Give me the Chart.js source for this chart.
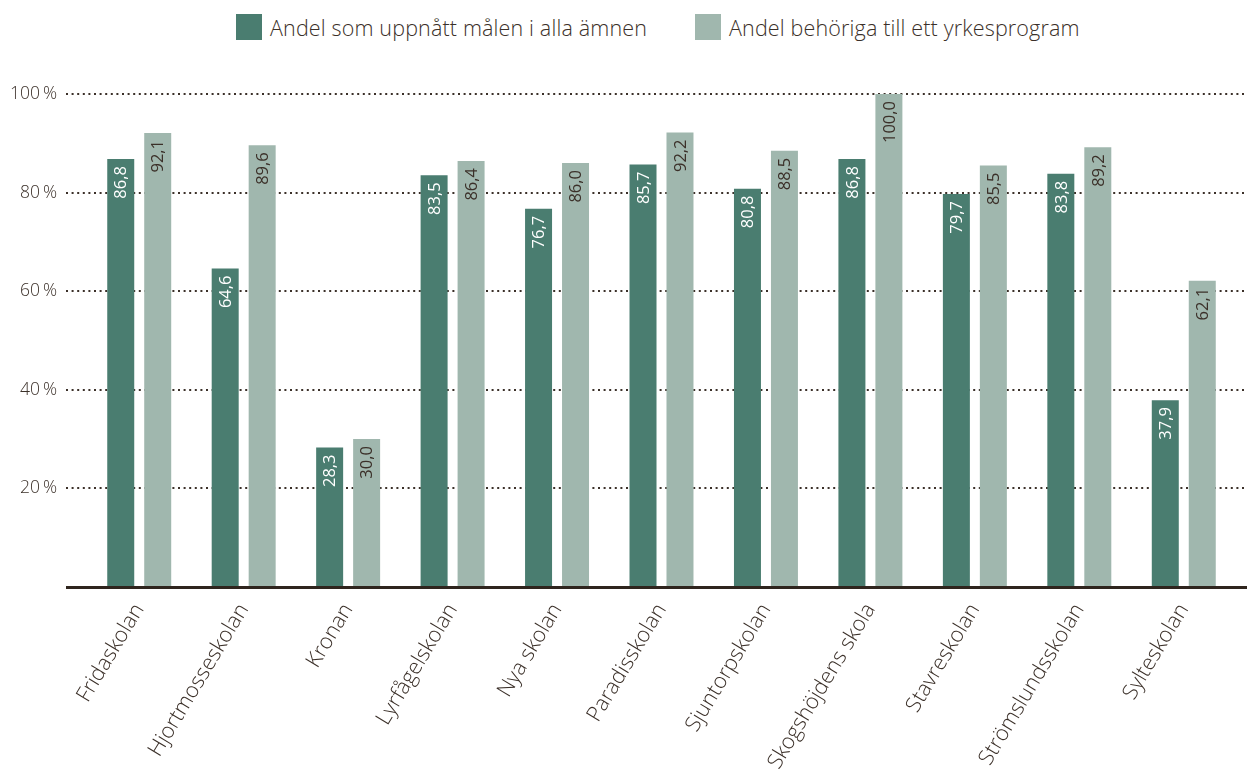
<!DOCTYPE html>
<html><head><meta charset="utf-8">
<script src="https://cdn.jsdelivr.net/npm/chart.js@4.4.0/dist/chart.umd.min.js"></script>
<style>
html,body{margin:0;padding:0;background:#fff;}
#wrap{position:relative;width:1247px;height:776px;overflow:hidden;}
.item{position:absolute;top:14px;display:flex;align-items:center;font-family:'Open Sans', sans-serif;font-weight:300;font-size:21.5px;letter-spacing:0.15px;color:#3b3029;white-space:nowrap;height:26px;}
.box{width:26px;height:26px;margin-right:8px;flex:none;}
canvas{position:absolute;left:0;top:0;}
</style></head>
<body><div id="wrap"><div id="legend"></div><canvas id="c" width="1247" height="776"></canvas></div>
<script>
const categories = ["Fridaskolan","Hjortmosseskolan","Kronan","Lyrfågelskolan","Nya skolan","Paradisskolan","Sjuntorpskolan","Skogshöjdens skola","Stavreskolan","Strömslundsskolan","Sylteskolan"];
const seriesNames = ["Andel som uppnått målen i alla ämnen","Andel behöriga till ett yrkesprogram"];
const achievedAll = [86.8,64.6,28.3,83.5,76.7,85.7,80.8,86.8,79.7,83.8,37.9];
const eligibleVocational = [92.1,89.6,30.0,86.4,86.0,92.2,88.5,100.0,85.5,89.2,62.1];
const yTickValues = [0,20,40,60,80,100];

const darkColor = '#4a7d70';
const lightColor = '#a0b7ae';
const textColor = '#3b3029';
const legendLefts = [236, 695];

// HTML legend
const legend = document.getElementById('legend');
seriesNames.forEach((name, i) => {
  const it = document.createElement('div');
  it.className = 'item';
  it.style.left = legendLefts[i] + 'px';
  const b = document.createElement('div');
  b.className = 'box';
  b.style.background = i === 0 ? darkColor : lightColor;
  const t = document.createElement('span');
  t.textContent = name;
  it.appendChild(b); it.appendChild(t);
  legend.appendChild(it);
});

const gridPlugin = {
  id: 'gridPlugin',
  beforeDatasetsDraw(chart) {
    const ctx = chart.ctx, y = chart.scales.y;
    ctx.save();
    ctx.strokeStyle = textColor;
    ctx.lineWidth = 2.2;
    ctx.setLineDash([2, 3.6]);
    yTickValues.forEach(v => {
      if (v === 0) return;
      const py = Math.round(y.getPixelForValue(v));
      ctx.beginPath();
      ctx.moveTo(66, py);
      ctx.lineTo(1247, py);
      ctx.stroke();
    });
    ctx.restore();
  },
  afterDatasetsDraw(chart) {
    const ctx = chart.ctx, y = chart.scales.y;
    ctx.save();
    const py = y.getPixelForValue(0);
    ctx.strokeStyle = '#2f251e';
    ctx.lineWidth = 3;
    ctx.beginPath();
    ctx.moveTo(66, py + 0.5);
    ctx.lineTo(1247, py + 0.5);
    ctx.stroke();
    ctx.font = "16.5px 'Open Sans', sans-serif";
    ctx.textAlign = 'right';
    ctx.textBaseline = 'middle';
    chart.data.datasets.forEach((ds, di) => {
      const meta = chart.getDatasetMeta(di);
      meta.data.forEach((bar, i) => {
        const txt = ds.data[i].toFixed(1).replace('.', ',');
        ctx.save();
        ctx.translate(bar.x, bar.y + 7);
        ctx.rotate(-Math.PI / 2);
        ctx.fillStyle = di === 0 ? '#ffffff' : textColor;
        ctx.fillText(txt, 0, 1);
        ctx.restore();
      });
    });
    ctx.restore();
  }
};

new Chart(document.getElementById('c'), {
  type: 'bar',
  data: {
    labels: categories,
    datasets: [
      { label: seriesNames[0], data: achievedAll, backgroundColor: darkColor, categoryPercentage: 0.708, barPercentage: 0.73 },
      { label: seriesNames[1], data: eligibleVocational, backgroundColor: lightColor, categoryPercentage: 0.708, barPercentage: 0.73 }
    ]
  },
  options: {
    responsive: false,
    animation: false,
    events: [],
    layout: { padding: { top: 94, left: 0, right: 11, bottom: 0 } },
    plugins: { legend: { display: false }, tooltip: { enabled: false } },
    scales: {
      x: {
        grid: { display: false, drawTicks: false },
        border: { display: false },
        afterFit: s => { s.height = 776 - 587; },
        ticks: {
          minRotation: 59, maxRotation: 59, autoSkip: false,
          padding: 12,
          color: textColor,
          font: { family: "'Open Sans', sans-serif", size: 21.5, weight: 300 }
        }
      },
      y: {
        min: 0, max: 100,
        grid: { display: false, drawTicks: false },
        border: { display: false },
        afterFit: s => { s.width = 87; },
        afterBuildTicks: s => { s.ticks = yTickValues.map(v => ({ value: v })); },
        ticks: {
          padding: 30,
          color: textColor,
          font: { family: "'Open Sans', sans-serif", size: 17.5, weight: 300 },
          callback: v => v === 0 ? '' : v + '\u2009%'
        }
      }
    }
  },
  plugins: [gridPlugin]
});
</script>
</body></html>
